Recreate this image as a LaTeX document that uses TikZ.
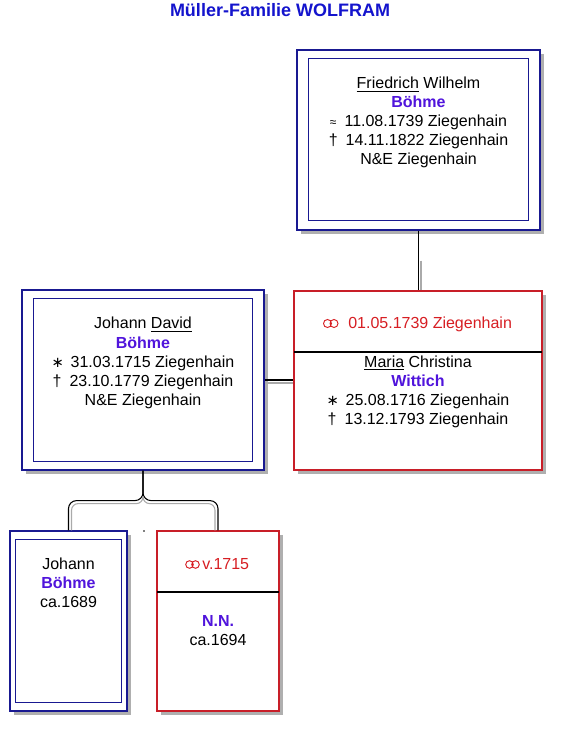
\documentclass[tikz,border=0pt]{standalone}
\usepackage{fontspec}
\setmainfont{Liberation Sans}
\newfontfamily\dv{DejaVu Sans}
\usetikzlibrary{fit,shadows}
\definecolor{navy}{RGB}{25,25,145}
\definecolor{boxred}{RGB}{200,30,40}
\definecolor{mred}{RGB}{215,30,35}
\definecolor{surname}{RGB}{80,20,220}
\definecolor{ttl}{RGB}{20,20,205}
\definecolor{shade}{RGB}{175,175,175}
\definecolor{lnk}{RGB}{170,170,170}
\newcommand{\astsym}{{\dv\fontsize{11}{12}\selectfont ∗}\hspace{5pt}}
\newcommand{\dagsym}{†\hspace{6pt}}
\newcommand{\bapsym}{{\fontsize{9}{10}\selectfont ≈}\hspace{6pt}}
\begin{document}
\begin{tikzpicture}[x=0.75pt,y=-0.75pt,
 txt/.style={anchor=base,inner sep=0pt,font=\fontsize{12}{14}\selectfont},
 sur/.style={anchor=base,inner sep=0pt,font=\fontsize{12}{14}\selectfont\bfseries,text=surname},
 mar/.style={anchor=base west,inner sep=0pt,font=\fontsize{12}{14}\selectfont,text=mred},
 rings/.style={draw=mred,line width=0.7pt},
 shadowed/.style={drop shadow={shadow xshift=3pt,shadow yshift=-3pt,fill=shade,opacity=1}},
 outerbox/.style={draw=navy,line width=0.9pt,inner sep=0pt,fill=white,shadowed},
 innerbox/.style={draw=navy,line width=0.75pt,inner sep=0pt},
 redbox/.style={draw=boxred,line width=0.9pt,inner sep=0pt,fill=white,shadowed},
 blackln/.style={draw=black,line width=0.8pt},
 grayln/.style={draw=lnk,line width=0.8pt}]
\useasboundingbox[fill=white] (0,0) rectangle (561,730);

% title
\node[anchor=base,inner sep=0pt,font=\fontsize{13.5}{16}\selectfont\bfseries,text=ttl] (title) at (280,17) {Müller-Familie WOLFRAM};

% Friedrich Wilhelm
\node[outerbox,fit={(297,50)(540,230)}] (fwO) {};
\node[innerbox,fit={(308,59)(528,221)}] (fwI) {};
\node[txt] (fw1) at (418.5,89) {\underline{Friedrich} Wilhelm};
\node[sur] (fw2) at (418.5,108) {Böhme};
\node[txt] (fw3) at (418.5,127) {\bapsym 11.08.1739 Ziegenhain};
\node[txt] (fw4) at (418.5,146) {\dagsym 14.11.1822 Ziegenhain};
\node[txt] (fw5) at (418.5,165) {N\&E Ziegenhain};

% Johann David
\node[outerbox,fit={(22,290)(264,470)}] (jdO) {};
\node[innerbox,fit={(33,299)(252,461)}] (jdI) {};
\node[txt] (jd1) at (143,329) {Johann \underline{David}};
\node[sur] (jd2) at (143,348) {Böhme};
\node[txt] (jd3) at (143,367) {\astsym 31.03.1715 Ziegenhain};
\node[txt] (jd4) at (143,386) {\dagsym 23.10.1779 Ziegenhain};
\node[txt] (jd5) at (143,405) {N\&E Ziegenhain};

% Maria Christina
\node[redbox,fit={(294,291)(542,470)}] (mcO) {};
\draw[line width=0.8pt] (294,352) -- (542,352);
\draw[rings] (327.5,323.5) circle (4) (334,323.5) circle (4);
\node[mar] (mc0) at (348,329) {01.05.1739 Ziegenhain};
\node[txt] (mc1) at (418,367) {\underline{Maria} Christina};
\node[sur] (mc2) at (418,386) {Wittich};
\node[txt] (mc3) at (418,405) {\astsym 25.08.1716 Ziegenhain};
\node[txt] (mc4) at (418,424) {\dagsym 13.12.1793 Ziegenhain};

% Johann (child)
\node[outerbox,fit={(10,531)(127,711)}] (jbO) {};
\node[innerbox,fit={(15,539)(121,702)}] (jbI) {};
\node[txt] (jb1) at (68.5,569) {Johann};
\node[sur] (jb2) at (68.5,588) {Böhme};
\node[txt] (jb3) at (68.5,607) {ca.1689};

% N.N.
\node[redbox,fit={(157,531)(279,711)}] (nnO) {};
\draw[line width=0.8pt] (157,592) -- (279,592);
\draw[rings] (189.5,564.5) circle (3.8) (195.5,564.5) circle (3.8);
\node[mar] (nn0) at (202,569) {v.1715};
\node[sur] (nn1) at (218,626) {N.N.};
\node[txt] (nn2) at (218,645) {ca.1694};

% connectors
\draw[blackln] (fwO.south) -- (fwO.south |- mcO.north);
\draw[grayln] ([shift={(2.5,30)}]fwO.south) -- ([shift={(2.5,0)}]fwO.south |- mcO.north);

\draw[blackln] (jdO.east) -- (jdO.east -| mcO.west);
\draw[grayln] ([shift={(0,3)}]jdO.east) -- ([shift={(0,3)}]jdO.east -| mcO.west);

\draw[blackln,rounded corners=6pt] (jdO.south) -- ++(0,30) -| (jbO.north);
\draw[blackln,rounded corners=6pt] (jdO.south) -- ++(0,30) -| (nnO.north);
\draw[grayln,rounded corners=5pt] ([shift={(0,26)}]jdO.south) -- ++(0,7) -| ([shift={(3,0)}]jbO.north);
\draw[grayln,rounded corners=5pt] ([shift={(0,26)}]jdO.south) -- ++(0,7) -| ([shift={(-3,0)}]nnO.north);
\fill[black] (144,531) circle (0.8);
\end{tikzpicture}
\end{document}
